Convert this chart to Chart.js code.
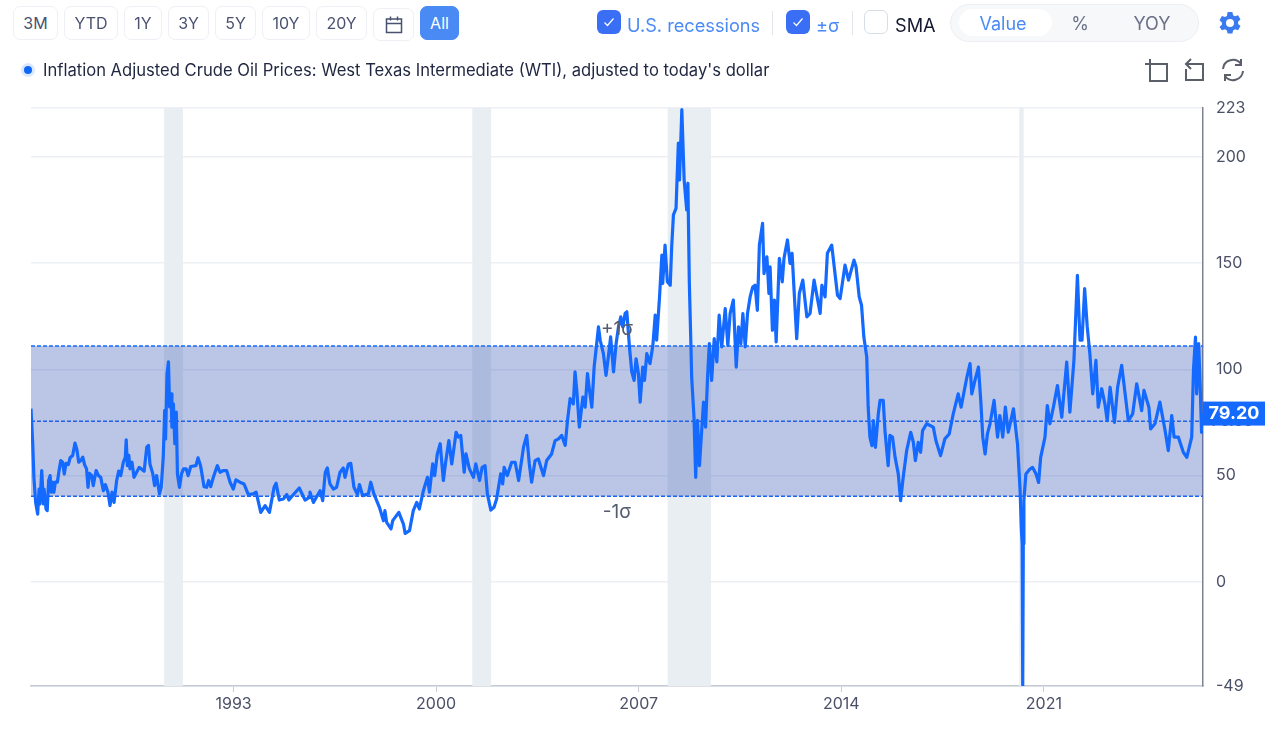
<!DOCTYPE html>
<html>
<head>
<meta charset="utf-8">
<title>Inflation Adjusted Crude Oil Prices</title>
<script src="https://cdn.jsdelivr.net/npm/chart.js@4"></script>
<style>
  body { margin: 0; background: #fff; font-family: Inter, sans-serif; width: 1271px; height: 735px; overflow: hidden; position: relative; }
  #priceChart { position: absolute; left: 0; top: 0; }
  .ui { position: absolute; box-sizing: border-box; white-space: nowrap; z-index: 2; }
  .btn { top: 6px; height: 34px; line-height: 32px; text-align: center; border: 1px solid #edf0f4; border-radius: 7px; color: #4a5270; font-size: 16px; background: #fff; }
  .btn.on { background: #4a8af4; border-color: #4a8af4; color: #fff; }
  .check { top: 10px; width: 24px; height: 24px; border-radius: 6px; background: #3a6ef5; }
  .check.off { background: #fff; border: 1px solid #d8dee8; }
  .sep { top: 11px; width: 1px; height: 24px; background: #e2e4ea; }
  .lbl { top: 12px; font-size: 18.2px; line-height: 26px; color: #4a8af4; }
  .seg { left: 950px; top: 4px; width: 249px; height: 38px; border-radius: 19px; background: #f7f8fa; border: 1px solid #eceef2; }
  .pill { left: 959px; top: 9px; width: 93px; height: 27px; border-radius: 14px; background: #fff; }
  .opt { top: 10px; line-height: 27px; font-size: 18px; color: #6b7288; transform: translateX(-50%); }
</style>
</head>
<body>
<canvas id="priceChart" width="1271" height="735"></canvas>

<div class="ui btn" style="left:13px;width:45px">3M</div>
<div class="ui btn" style="left:64px;width:54px">YTD</div>
<div class="ui btn" style="left:124px;width:38px">1Y</div>
<div class="ui btn" style="left:168px;width:41px">3Y</div>
<div class="ui btn" style="left:215px;width:41px">5Y</div>
<div class="ui btn" style="left:262px;width:48px">10Y</div>
<div class="ui btn" style="left:316px;width:51px">20Y</div>
<div class="ui btn" style="left:373px;width:41px;top:8px;height:33px">
  <svg width="18" height="18" viewBox="0 0 18 18" style="margin-top:7px" fill="none" stroke="#4a5270" stroke-width="1.5"><rect x="1.5" y="3" width="15" height="13.5"/><path d="M1.5 7.5h15M5.5 .5v4M12.5 .5v4"/></svg>
</div>
<div class="ui btn on" style="left:420px;width:39px">All</div>

<div class="ui" style="left:21px;top:63px;width:14px;height:14px;border-radius:7px;background:#dce8ff"></div>
<div class="ui" style="left:24px;top:66px;width:8px;height:8px;border-radius:4px;background:#1066f5"></div>
<div class="ui" style="left:43px;top:57px;font-size:16.6px;line-height:26px;color:#1f2640">Inflation Adjusted Crude Oil Prices: West Texas Intermediate (WTI), adjusted to today's dollar</div>

<div class="ui check" style="left:597px"><svg width="24" height="24" fill="none" stroke="#fff" stroke-width="1.2"><path d="M7.5 12.5l3 3 6-7"/></svg></div>
<div class="ui lbl" style="left:627px">U.S. recessions</div>
<div class="ui sep" style="left:772px"></div>
<div class="ui check" style="left:786px"><svg width="24" height="24" fill="none" stroke="#fff" stroke-width="1.2"><path d="M7.5 12.5l3 3 6-7"/></svg></div>
<div class="ui lbl" style="left:816px">±σ</div>
<div class="ui sep" style="left:852px"></div>
<div class="ui check off" style="left:864px"></div>
<div class="ui lbl" style="left:895px;color:#14182e">SMA</div>
<div class="ui seg"></div>
<div class="ui pill"></div>
<div class="ui opt" style="left:1003px;color:#4a8af4">Value</div>
<div class="ui opt" style="left:1080px">%</div>
<div class="ui opt" style="left:1152px">YOY</div>
<svg class="ui" style="left:1218px;top:11px" width="24" height="24" viewBox="0 0 24 24" fill="#3a7bf0"><path fill-rule="evenodd" d="M9.6 1h4.8l.7 3.2 1.9 1.1 3.1-1 2.4 4.200-2.400 2.200v2.200l2.400 2.200-2.400 4.200-3.100-1-1.900 1.100-.7 3.200H9.600l-.7-3.200-1.900-1.100-3.100 1L1.500 15.900l2.400-2.200v-2.200L1.500 9.300l2.400-4.200 3.100 1 1.900-1.100zM12 8a4 4 0 1 0 0 8 4 4 0 0 0 0-8z"/></svg>

<svg class="ui" style="left:1144px;top:58px" width="26" height="26" fill="none" stroke="#5a5f6a" stroke-width="2"><path d="M1 6h10M6 1v10M11 6h12v17H6V11"/></svg>
<svg class="ui" style="left:1181px;top:56px" width="26" height="28" fill="none" stroke="#5a5f6a" stroke-width="2"><path d="M5 13v11h17V8H5"/><path d="M10 3L5 8l5 5"/></svg>
<svg class="ui" style="left:1220px;top:58px" width="26" height="24" viewBox="0 0 26 24" fill="none" stroke="#5a5f6a" stroke-width="2"><path d="M3 11A10 10 0 0 1 21 6M23 13A10 10 0 0 1 5 18"/><path d="M21 1v6h-6M5 23v-6h6"/></svg>

<script>
const years = [
  1986.00,1986.06,1986.10,1986.16,1986.23,1986.28,1986.31,1986.37,1986.43,1986.45,1986.52,1986.56,1986.61,1986.66,1986.70,1986.75,1986.79,1986.84,1986.91,1986.98,
  1987.03,1987.09,1987.15,1987.21,1987.29,1987.35,1987.44,1987.52,1987.58,1987.65,1987.72,1987.79,1987.85,1987.92,1987.97,
  1988.02,1988.10,1988.15,1988.25,1988.33,1988.41,1988.50,1988.57,1988.66,1988.73,1988.80,1988.87,1988.96,
  1989.03,1989.10,1989.19,1989.26,1989.29,1989.33,1989.38,1989.42,1989.49,1989.56,1989.65,1989.74,1989.91,
  1990.00,1990.06,1990.11,1990.21,1990.27,1990.34,1990.44,1990.50,1990.57,1990.62,1990.65,1990.70,1990.75,1990.79,1990.84,1990.87,1990.92,1990.97,
  1991.02,1991.06,1991.13,1991.20,1991.27,1991.36,1991.43,1991.52,1991.70,1991.77,1991.86,1991.98,
  1992.07,1992.14,1992.21,1992.30,1992.44,1992.53,1992.65,1992.76,1992.88,1992.99,
  1993.08,1993.22,1993.36,1993.51,1993.68,1993.78,1993.94,
  1994.09,1994.24,1994.40,1994.47,1994.58,1994.72,1994.84,1994.91,
  1995.07,1995.27,1995.47,1995.62,1995.64,1995.76,1995.99,
  1996.08,1996.17,1996.24,1996.33,1996.45,1996.56,1996.68,1996.79,1996.85,1996.97,
  1997.05,1997.16,1997.28,1997.35,1997.46,1997.66,1997.74,1997.85,
  1998.04,1998.18,1998.23,1998.29,1998.44,1998.50,1998.71,1998.87,1998.93,
  1999.08,1999.21,1999.33,1999.42,1999.56,1999.70,1999.77,1999.88,1999.95,
  2000.04,2000.14,2000.25,2000.32,2000.44,2000.54,2000.69,2000.77,2000.85,2000.97,
  2001.03,2001.15,2001.29,2001.37,2001.50,2001.59,2001.69,2001.77,2001.89,
  2002.00,2002.09,2002.23,2002.30,2002.35,2002.46,2002.61,2002.73,2002.85,
  2003.02,2003.13,2003.22,2003.30,2003.42,2003.53,2003.71,2003.82,2003.99,
  2004.11,2004.23,2004.34,2004.46,2004.54,2004.63,2004.74,2004.80,2004.86,2004.95,
  2005.07,2005.15,2005.23,2005.30,2005.38,2005.46,2005.61,2005.67,2005.78,2005.87,2005.95,
  2006.03,2006.13,2006.22,2006.30,2006.38,2006.45,2006.53,2006.59,2006.68,2006.76,2006.84,2006.91,2006.99,
  2007.05,2007.14,2007.20,2007.28,2007.39,2007.49,2007.57,2007.62,2007.72,2007.80,2007.83,2007.91,2007.99,
  2008.09,2008.14,2008.20,2008.29,2008.37,2008.41,2008.49,2008.57,2008.66,2008.70,2008.75,2008.80,2008.83,2008.91,2008.97,
  2009.03,2009.10,2009.18,2009.24,2009.31,2009.38,2009.44,2009.52,2009.61,2009.70,2009.78,2009.87,2009.99,
  2010.08,2010.16,2010.27,2010.37,2010.45,2010.53,2010.60,2010.68,2010.76,2010.85,2010.94,
  2011.02,2011.10,2011.17,2011.28,2011.33,2011.43,2011.50,2011.54,2011.62,2011.69,2011.75,2011.86,2011.96,
  2012.02,2012.14,2012.23,2012.30,2012.46,2012.55,2012.67,2012.81,2012.92,
  2013.06,2013.27,2013.33,2013.44,2013.52,2013.67,2013.87,2013.96,
  2014.13,2014.25,2014.44,2014.51,2014.62,2014.70,2014.78,2014.88,2014.93,2014.99,
  2015.06,2015.11,2015.18,2015.28,2015.34,2015.45,2015.51,2015.62,2015.68,2015.77,2015.86,2015.97,
  2016.05,2016.14,2016.26,2016.40,2016.49,2016.56,2016.66,2016.74,2016.81,2016.95,
  2017.18,2017.27,2017.43,2017.58,2017.73,2017.87,
  2018.04,2018.14,2018.33,2018.45,2018.51,2018.62,2018.74,2018.82,2018.89,2018.97,
  2019.05,2019.14,2019.28,2019.40,2019.48,2019.58,2019.67,2019.77,2019.95,
  2020.09,2020.18,2020.22,2020.25,2020.27,2020.29,2020.31,2020.38,2020.52,2020.61,2020.73,2020.82,2020.89,
  2021.04,2021.12,2021.21,2021.33,2021.47,2021.62,2021.79,2021.90,
  2022.04,2022.16,2022.25,2022.32,2022.41,2022.50,2022.59,2022.69,2022.80,2022.88,
  2023.00,2023.11,2023.19,2023.29,2023.44,2023.55,2023.69,2023.92,
  2024.07,2024.21,2024.38,2024.46,2024.63,2024.69,2024.84,
  2025.01,2025.19,2025.30,2025.42,2025.50,2025.65,2025.82,2025.94,
  2026.11,2026.17,2026.24,2026.28,2026.35,2026.40,2026.45,2026.49
];
const prices = [
  81.5,65.0,49.2,37.4,31.9,43.7,36.7,52.4,36.7,43.7,34.3,33.5,47.7,50.0,42.2,46.9,42.2,46.9,46.9,53.2,
  57.1,56.3,50.8,55.8,55.2,58.4,59.5,65.3,62.6,56.3,57.1,58.7,55.2,53.2,44.5,
  51.1,50.0,45.3,52.4,50.0,49.2,42.9,45.8,42.2,35.9,42.2,37.4,47.7,
  52.1,50.0,56.3,58.7,66.8,54.7,59.5,53.2,56.3,49.2,51.6,53.9,52.1,
  63.4,64.2,55.5,50.8,45.3,50.0,41.4,44.5,58.7,80.7,67.3,98.0,103.5,82.3,88.5,72.8,83.8,65.0,
  79.9,50.8,44.5,50.8,53.2,53.2,50.0,54.3,54.7,58.4,54.7,44.8,
  44.5,47.7,44.8,49.2,54.7,51.6,52.4,52.4,46.9,43.7,
  48.0,46.9,46.1,41.1,41.4,42.2,32.7,
  35.9,32.7,44.5,46.4,38.5,39.0,41.1,38.5,
  41.1,44.2,38.5,39.8,42.2,37.4,42.9,
  38.2,51.6,53.6,46.1,43.7,44.5,51.6,53.6,49.2,55.5,
  55.8,44.5,41.1,45.8,40.6,41.4,46.9,41.4,
  35.1,28.8,33.5,28.0,24.9,28.8,32.7,27.2,22.8,
  24.1,33.5,37.4,34.3,42.9,49.2,42.2,55.5,50.0,
  60.2,65.0,47.7,55.5,66.5,55.5,70.4,68.1,68.9,51.6,
  60.2,53.2,49.2,55.5,47.7,53.9,54.7,41.4,33.8,
  35.1,39.0,50.8,46.1,53.9,50.0,56.3,56.3,47.7,
  63.4,68.9,55.5,46.9,57.1,57.9,50.0,57.1,60.2,
  66.5,67.3,68.9,64.2,76.0,86.2,83.8,98.8,90.1,72.8,
  87.0,82.2,98.0,90.1,82.2,101.1,120.0,113.7,107.4,97.2,105.8,
  115.3,98.8,112.1,120.0,124.7,120.0,126.3,127.1,110.6,98.8,94.8,105.0,98.0,
  84.6,101.1,94.8,107.4,102.7,111.3,125.5,113.7,134.1,153.8,140.4,158.5,141.2,
  139.6,157.7,172.7,175.8,206.5,189.2,222.2,189.2,175.0,187.6,140.4,113.7,96.4,77.5,49.2,
  76.0,54.7,72.0,84.6,72.8,96.4,112.1,94.8,114.5,103.5,125.5,110.6,128.6,
  111.3,126.3,132.6,101.1,120.0,112.1,126.3,110.6,126.3,134.1,138.8,
  139.6,127.8,158.5,168.7,145.1,153.0,135.7,148.3,118.4,132.6,112.9,152.2,141.2,
  152.2,160.9,149.9,154.6,114.5,135.7,142.0,124.7,126.3,
  142.0,126.3,139.6,134.1,154.6,158.5,134.9,133.3,
  149.1,142.0,151.4,148.3,134.1,130.2,115.2,105.8,82.2,68.1,
  64.1,75.9,63.3,79.1,85.4,85.4,71.2,54.7,68.9,68.1,58.6,50.8,
  38.2,49.2,61.8,70.4,65.7,57.1,65.7,61.0,71.2,74.4,
  72.8,66.5,59.4,67.3,69.6,79.1,
  88.5,82.2,95.6,102.7,88.5,94.8,101.1,85.4,68.1,60.2,
  69.6,74.4,85.4,68.1,78.3,68.1,82.2,70.4,81.4,
  64.9,42.9,25.6,18.0,-49.0,18.0,38.2,50.8,53.1,53.9,50.8,46.8,58.6,
  68.1,83.0,74.4,82.2,92.4,77.5,103.4,79.9,
  104.2,144.3,113.7,113.7,138.0,120.0,107.4,88.5,104.2,82.2,
  90.9,83.8,75.9,91.6,75.1,91.6,101.9,75.9,
  79.1,93.2,80.6,90.1,82.2,72.0,74.4,
  84.6,71.2,61.8,78.3,68.1,68.1,61.0,58.6,
  68.1,99.5,115.2,88.5,112.1,93.2,70.4,79.2
];
const xTicks = [1993, 2000, 2007, 2014, 2021];
const yTicks = [-49, 0, 50, 100, 150, 200, 223];
const xRange = [1986, 2026.5];
const sigmaPlus = 111;
const sigmaMean = 75.6;
const sigmaMinus = 40.3;
const recessionStart = [1990.6, 2001.25, 2008.0, 2020.15];
const recessionEnd = [1991.25, 2001.9, 2009.5, 2020.3];
const lastPrice = '79.20';

const FONT = 'Inter, sans-serif';
const BLUE = '#1469ff';

function hline(value, extra) {
  return Object.assign({
    data: xRange.map(x => ({ x: x, y: value })),
    borderColor: BLUE,
    borderWidth: 1.5,
    borderDash: [4, 2],
    pointRadius: 0,
    order: 2
  }, extra);
}

const overlays = {
  id: 'overlays',
  beforeDatasetsDraw(chart) {
    const { ctx, chartArea, scales } = chart;
    ctx.save();
    ctx.fillStyle = '#e9eef3';
    recessionStart.forEach((start, i) => {
      const a = scales.x.getPixelForValue(start);
      const b = scales.x.getPixelForValue(recessionEnd[i]);
      ctx.fillRect(a, chartArea.top, b - a, chartArea.bottom - chartArea.top);
    });
    ctx.restore();
  },
  afterDraw(chart) {
    const { ctx, chartArea, scales } = chart;
    ctx.save();
    ctx.font = '19px ' + FONT;
    ctx.fillStyle = '#555c6e';
    ctx.textAlign = 'center';
    ctx.textBaseline = 'middle';
    const mid = scales.x.getPixelForValue(2006.25);
    ctx.fillText('+1σ', mid, scales.y.getPixelForValue(sigmaPlus) - 17);
    ctx.fillText('-1σ', mid, scales.y.getPixelForValue(sigmaMinus) + 16);

    // current value tag, the mean label sticks out under it
    const yMean = scales.y.getPixelForValue(sigmaMean);
    ctx.font = '16px ' + FONT;
    ctx.textAlign = 'left';
    ctx.fillStyle = '#4a5068';
    ctx.fillText('75.60', chartArea.right + 8, yMean);
    const yTag = scales.y.getPixelForValue(79.2);
    ctx.fillStyle = BLUE;
    ctx.fillRect(chartArea.right, yTag - 12, 62, 24);
    ctx.fillStyle = '#fff';
    ctx.font = 'bold 18px ' + FONT;
    ctx.textAlign = 'center';
    ctx.fillText(lastPrice, chartArea.right + 31, yTag);
    ctx.restore();
  }
};

new Chart(document.getElementById('priceChart'), {
  type: 'line',
  data: {
    datasets: [
      {
        data: years.map((y, i) => ({ x: y, y: prices[i] })),
        borderColor: BLUE,
        borderWidth: 3.2,
        borderJoinStyle: 'round',
        pointRadius: 0,
        tension: 0,
        order: 1
      },
      hline(sigmaPlus, { fill: { target: 3 }, backgroundColor: 'rgba(61,89,184,0.35)' }),
      hline(sigmaMean),
      hline(sigmaMinus)
    ]
  },
  options: {
    responsive: false,
    animation: false,
    devicePixelRatio: 1,
    layout: { padding: { top: 108, left: 31, right: 0, bottom: 0 } },
    plugins: { legend: { display: false }, tooltip: { enabled: false } },
    scales: {
      x: {
        type: 'linear',
        min: xRange[0],
        max: xRange[1],
        afterBuildTicks: s => { s.ticks = xTicks.map(v => ({ value: v })); },
        afterFit: s => { s.height = 49; },
        grid: { drawOnChartArea: false, tickLength: 6, color: '#c8ced8' },
        border: { color: '#c4cad4', width: 1.5 },
        ticks: {
          autoSkip: false,
          maxRotation: 0,
          padding: 3,
          color: '#4a5068',
          font: { family: FONT, size: 16 },
          callback: v => String(v)
        }
      },
      y: {
        position: 'right',
        min: -49,
        max: 223,
        afterBuildTicks: s => { s.ticks = yTicks.map(v => ({ value: v })); },
        afterFit: s => { s.width = 68; },
        grid: { color: '#eceff4', lineWidth: 1.5, drawTicks: false },
        border: { color: '#7f8391', width: 1.5 },
        ticks: {
          autoSkip: false,
          padding: 13,
          color: '#4a5068',
          font: { family: FONT, size: 16 },
          callback: v => String(v)
        }
      }
    }
  },
  plugins: [overlays]
});
</script>
</body>
</html>
